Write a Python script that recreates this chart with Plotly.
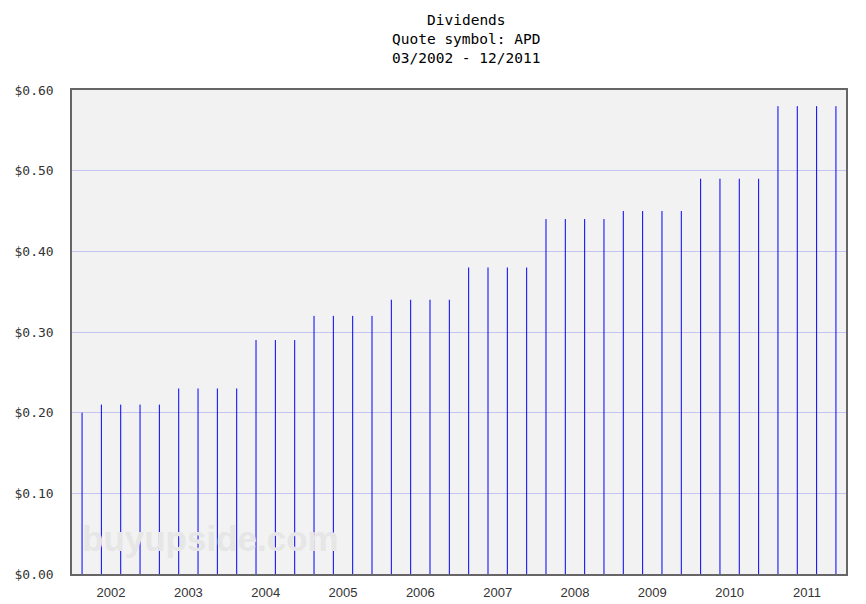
import plotly.graph_objects as go

# quarterly dividends, 03/2002 .. 12/2011
quarters = list(range(40))
dividends = [0.20, 0.21, 0.21, 0.21,
             0.21, 0.23, 0.23, 0.23,
             0.23, 0.29, 0.29, 0.29,
             0.32, 0.32, 0.32, 0.32,
             0.34, 0.34, 0.34, 0.34,
             0.38, 0.38, 0.38, 0.38,
             0.44, 0.44, 0.44, 0.44,
             0.45, 0.45, 0.45, 0.45,
             0.49, 0.49, 0.49, 0.49,
             0.58, 0.58, 0.58, 0.58]
year_labels = ["2002", "2003", "2004", "2005", "2006", "2007", "2008", "2009", "2010", "2011"]
year_pos = [1.5 + 4 * i for i in range(len(year_labels))]
y_ticks = [0.0, 0.1, 0.2, 0.3, 0.4, 0.5, 0.6]
y_labels = ["$%.2f" % v for v in y_ticks]

# one vertical stem per dividend
xs, ys = [], []
for q, d in zip(quarters, dividends):
    xs += [q, q, None]
    ys += [0, d, None]

fig = go.Figure()
fig.add_trace(go.Scatter(x=xs, y=ys, mode="lines",
                         line=dict(color="#0000ff", width=1),
                         hoverinfo="skip", showlegend=False))

H_PLOT = 574 - 90
W_PLOT = 846 - 72
titles = ["Dividends", "Quote symbol: APD", "03/2002 - 12/2011"]
for i, t in enumerate(titles):
    fig.add_annotation(text=t, xref="paper", yref="paper",
                       x=(466 - 72) / W_PLOT, y=1 + (90 - (20 + 19 * i)) / H_PLOT,
                       showarrow=False, xanchor="center", yanchor="middle",
                       font=dict(family="DejaVu Sans Mono", size=14.5, color="#000"))

fig.add_annotation(text="<b>buyupside.com</b>", xref="paper", yref="paper",
                   x=(210 - 72) / W_PLOT, y=(574 - 538) / H_PLOT,
                   showarrow=False, xanchor="center", yanchor="middle",
                   font=dict(family="Liberation Sans", size=35, color="#e6e6e6"))

fig.update_layout(
    width=866, height=604,
    margin=dict(l=72, r=20, t=90, b=30),
    paper_bgcolor="white", plot_bgcolor="#f2f2f2",
)
fig.update_xaxes(range=[-0.52, 39.52], tickmode="array", tickvals=year_pos,
                 ticktext=year_labels, showgrid=False, zeroline=False,
                 showline=True, mirror=True, linecolor="#666", linewidth=1.5,
                 ticks="", ticklabelstandoff=6, automargin=False,
                 tickfont=dict(family="Liberation Sans", size=13, color="#333"))
fig.update_yaxes(range=[0, 0.6], tickmode="array", tickvals=y_ticks, ticktext=y_labels,
                 showgrid=True, gridcolor="#c4c4f0", gridwidth=1, zeroline=False,
                 showline=True, mirror=True, linecolor="#666", linewidth=1.5,
                 ticks="", ticklabelstandoff=14, automargin=False,
                 tickfont=dict(family="DejaVu Sans Mono", size=13, color="#333"))

fig.write_html("out.html", config={"displayModeBar": False},
               post_script="document.body.style.margin='0';")
